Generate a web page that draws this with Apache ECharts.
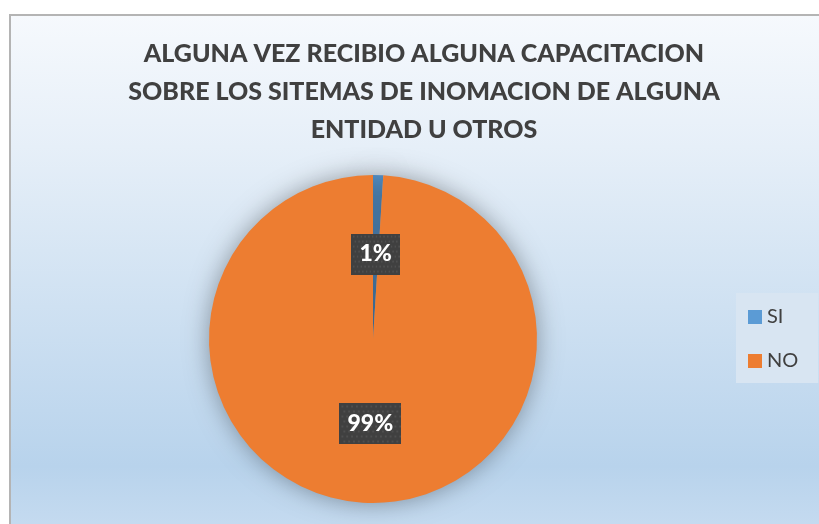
<!DOCTYPE html>
<html>
<head>
<meta charset="utf-8">
<script src="https://cdn.jsdelivr.net/npm/echarts@6/dist/echarts.min.js"></script>
<style>
  html, body { margin: 0; padding: 0; }
  #chart { width: 819px; height: 524px; }
</style>
</head>
<body>
<div id="chart"></div>
<script>
// datos
const titleText = 'ALGUNA VEZ RECIBIO ALGUNA CAPACITACION\nSOBRE LOS SITEMAS DE INOMACION DE ALGUNA\nENTIDAD U OTROS'
const categories = ['SI', 'NO']
const values = [1, 99]
const colors = ['#5b9bd5', '#ed7d31']

const chart = echarts.init(document.getElementById('chart'))

// fondo punteado de las etiquetas
const makeDots = (w, h) => {
  const c = document.createElement('canvas')
  c.width = w
  c.height = h
  const ctx = c.getContext('2d')
  ctx.fillStyle = '#404040'
  ctx.fillRect(0, 0, w, h)
  ctx.fillStyle = '#4f4f4f'
  for (let y = 2; y < h; y += 5) {
    for (let x = (y % 10 === 2 ? 2 : 4); x < w; x += 5) {
      ctx.fillRect(x, y, 2, 2)
    }
  }
  return c
}

const option = {
  animation: false,
  graphic: [{
    type: 'rect',
    z: -10,
    shape: { x: 10, y: 15, width: 830, height: 530 },
    style: {
      fill: new echarts.graphic.LinearGradient(0, 0, 0, 1, [
        { offset: 0, color: '#f6f9fd' },
        { offset: 0.25, color: '#e6eff8' },
        { offset: 0.85, color: '#b8d3ec' },
        { offset: 1, color: '#c9ddf1' }
      ]),
      stroke: '#b4b4b4',
      lineWidth: 2
    }
  }],
  title: {
    text: titleText,
    left: 419,
    textAlign: 'center',
    top: 30,
    textStyle: {
      fontFamily: 'Lato',
      fontWeight: 900,
      fontSize: 25,
      lineHeight: 38,
      color: '#404040'
    }
  },
  legend: {
    data: categories,
    orient: 'vertical',
    left: 736,
    top: 293,
    padding: [14, 20, 12, 12],
    backgroundColor: '#d8e5f2',
    icon: 'rect',
    itemWidth: 14,
    itemHeight: 14,
    itemGap: 24,
    itemTextGap: 6,
    textStyle: { fontFamily: 'Lato', fontSize: 20, color: '#404040' }
  },
  series: [{
    type: 'pie',
    center: [373, 339],
    radius: 164,
    startAngle: 90,
    clockwise: true,
    color: colors,
    itemStyle: {
      shadowBlur: 24,
      shadowColor: 'rgba(0, 0, 0, 0.35)'
    },
    label: {
      position: 'inside',
      formatter: '{d}%',
      fontFamily: 'Lato',
      fontWeight: 900,
      fontSize: 23,
      lineHeight: 28,
      color: '#fff',
      backgroundColor: { image: makeDots(64, 41) },
      padding: [7, 8, 6, 8],
      shadowBlur: 5,
      shadowOffsetX: 3,
      shadowOffsetY: 3,
      shadowColor: 'rgba(0, 0, 0, 0.45)'
    },
    labelLine: { show: false },
    emphasis: { disabled: true },
    data: categories.map((name, i) => ({ name, value: values[i] }))
  }]
}

chart.setOption(option)
</script>
</body>
</html>
